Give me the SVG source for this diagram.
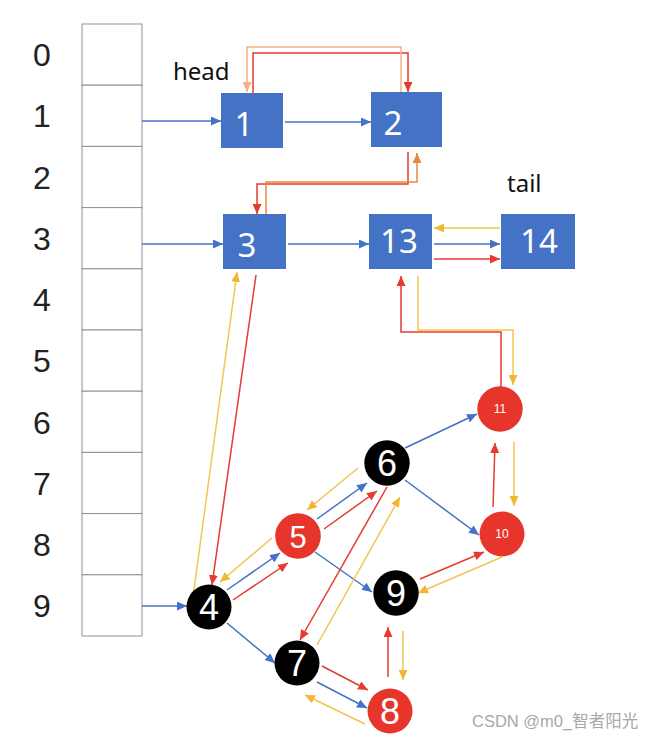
<svg xmlns="http://www.w3.org/2000/svg" width="650" height="740" viewBox="0 0 650 740">
<style>
.lbl{font-family:"Liberation Sans",Arial,sans-serif;font-size:32px;fill:#222;text-anchor:middle}
.cell{fill:#fff;stroke:#8a8f99;stroke-width:1}
.box{fill:#4472C4}
.bt{font-family:"Noto Sans","Liberation Sans",sans-serif;font-size:33px;fill:#fff;text-anchor:middle}
.ct{font-family:"Liberation Sans",Arial,sans-serif;font-size:36px;fill:#fff;text-anchor:middle}
.cs{font-family:"Liberation Sans",Arial,sans-serif;font-size:12px;fill:#fff;text-anchor:middle}
.blk{fill:#000}
.red{fill:#E8352B}
.word{font-family:"Noto Sans","Liberation Sans",sans-serif;font-size:24px;fill:#111}
.b{fill:none;stroke:#4472C4;stroke-width:1.5;marker-end:url(#mb)}
.r{fill:none;stroke:#E53A2E;stroke-width:1.5;marker-end:url(#mr)}
.y{fill:none;stroke:#F2C54E;stroke-width:1.5;marker-end:url(#my)}
.lo{fill:none;stroke:#F4B183;stroke-width:1.5;marker-end:url(#mlo)}
.o{fill:none;stroke:#E9883A;stroke-width:1.5;marker-end:url(#mo)}
</style>
<defs>
<marker id="mb" markerUnits="userSpaceOnUse" markerWidth="11" markerHeight="9" refX="10" refY="4.5" orient="auto"><path d="M0,0 L10,4.5 L0,9 z" fill="#4472C4"/></marker>
<marker id="mr" markerUnits="userSpaceOnUse" markerWidth="11" markerHeight="9" refX="10" refY="4.5" orient="auto"><path d="M0,0 L10,4.5 L0,9 z" fill="#E53A2E"/></marker>
<marker id="my" markerUnits="userSpaceOnUse" markerWidth="11" markerHeight="9" refX="10" refY="4.5" orient="auto"><path d="M0,0 L10,4.5 L0,9 z" fill="#F0B830"/></marker>
<marker id="mlo" markerUnits="userSpaceOnUse" markerWidth="11" markerHeight="9" refX="10" refY="4.5" orient="auto"><path d="M0,0 L10,4.5 L0,9 z" fill="#F4B183"/></marker>
<marker id="mo" markerUnits="userSpaceOnUse" markerWidth="11" markerHeight="9" refX="10" refY="4.5" orient="auto"><path d="M0,0 L10,4.5 L0,9 z" fill="#E9883A"/></marker>
</defs>
<rect width="650" height="740" fill="#fff"/>

<g id="array">
<rect class="cell" x="82" y="24" width="60" height="61.2"/>
<rect class="cell" x="82" y="85.2" width="60" height="61.2"/>
<rect class="cell" x="82" y="146.4" width="60" height="61.2"/>
<rect class="cell" x="82" y="207.6" width="60" height="61.2"/>
<rect class="cell" x="82" y="268.8" width="60" height="61.2"/>
<rect class="cell" x="82" y="330" width="60" height="61.2"/>
<rect class="cell" x="82" y="391.2" width="60" height="61.2"/>
<rect class="cell" x="82" y="452.4" width="60" height="61.2"/>
<rect class="cell" x="82" y="513.6" width="60" height="61.2"/>
<rect class="cell" x="82" y="574.8" width="60" height="61.2"/>
<text class="lbl" x="42" y="66">0</text>
<text class="lbl" x="42" y="127">1</text>
<text class="lbl" x="42" y="189">2</text>
<text class="lbl" x="42" y="250">3</text>
<text class="lbl" x="42" y="311">4</text>
<text class="lbl" x="42" y="372">5</text>
<text class="lbl" x="42" y="434">6</text>
<text class="lbl" x="42" y="495">7</text>
<text class="lbl" x="42" y="556">8</text>
<text class="lbl" x="42" y="617">9</text>
</g>

<text class="word" x="173" y="80">head</text>
<text class="word" x="507" y="192">tail</text>

<g id="connectors">
<path class="b" d="M142,121 H221"/>
<path class="b" d="M285,122 H371"/>
<path class="b" d="M142,244 H223"/>
<path class="b" d="M288,244 H369"/>
<path class="b" d="M434,244 H500"/>
<path class="b" d="M142,606 H187"/>
<path class="b" d="M227,590 L280,553"/>
<path class="b" d="M317,519 L367,483"/>
<path class="b" d="M315,552 L372,592"/>
<path class="b" d="M405,448 L477,414"/>
<path class="b" d="M405,480 L479,535"/>
<path class="b" d="M227,623 L275,663"/>
<path class="b" d="M317,682 L367,708"/>

<path class="r" d="M253,93 V53 H408 V92"/>
<path class="r" d="M408,152 V184 H257 V214"/>
<path class="r" d="M434,259 H500"/>
<path class="r" d="M501,387 V332 H401 V276"/>
<path class="r" d="M256,275 L212,585"/>
<path class="r" d="M233,600 L288,563"/>
<path class="r" d="M324,529 L377,491"/>
<path class="r" d="M387,487 L300,640"/>
<path class="r" d="M420,579 L484,552"/>
<path class="r" d="M493,507 L495,443"/>
<path class="r" d="M322,666 L368,690"/>
<path class="r" d="M388,677 V627"/>

<path class="y" d="M500,228 H434"/>
<path class="y" d="M418,276 V330 H513 V385"/>
<path class="y" d="M193,597 L237,272"/>
<path class="y" d="M272,538 L220,582"/>
<path class="y" d="M358,468 L307,510"/>
<path class="y" d="M317,645 L400,497"/>
<path class="y" d="M502,557 L418,593"/>
<path class="y" d="M514,442 V506"/>
<path class="y" d="M365,724 L305,695"/>
<path class="y" d="M403,631 V680"/>

<path class="lo" d="M401,92 V47 H247 V92"/>
<path class="o" d="M266,214 V182 H417 V153"/>
</g>

<g id="n1"><rect class="box" x="221" y="93" width="62" height="55"/><text class="bt" x="244" y="136">1</text></g>
<g id="n2"><rect class="box" x="371" y="92" width="71" height="55"/><text class="bt" x="393" y="135">2</text></g>
<g id="n3"><rect class="box" x="223" y="214" width="63" height="55"/><text class="bt" x="247" y="257">3</text></g>
<g id="n13"><rect class="box" x="369" y="214" width="63" height="55"/><text class="bt" x="399" y="253">13</text></g>
<g id="n14"><rect class="box" x="501" y="214" width="74" height="55"/><text class="bt" x="539" y="253">14</text></g>

<g id="c4"><circle class="blk" cx="209" cy="607" r="22.5"/><text class="ct" x="209" y="620">4</text></g>
<g id="c5"><circle class="red" cx="298" cy="536" r="22.8"/><text class="ct" x="298" y="548" style="font-size:31px">5</text></g>
<g id="c6"><circle class="blk" cx="387" cy="463" r="22.7"/><text class="ct" x="387" y="476">6</text></g>
<g id="c9"><circle class="blk" cx="396" cy="593" r="22.7"/><text class="ct" x="396" y="606">9</text></g>
<g id="c7"><circle class="blk" cx="297" cy="663" r="22.5"/><text class="ct" x="297" y="676">7</text></g>
<g id="c8"><circle class="red" cx="390" cy="711" r="22.5"/><text class="ct" x="390" y="724">8</text></g>
<g id="c10"><circle class="red" cx="502" cy="534" r="22.5"/><text class="cs" x="502" y="538">10</text></g>
<g id="c11"><circle class="red" cx="500" cy="409" r="22.7"/><text class="cs" x="500" y="413">11</text></g>

<text x="472" y="727" style="font-family:'Liberation Sans','Noto Sans CJK SC',sans-serif;font-size:16.5px;fill:#a8a8a8">CSDN @m0_智者阳光</text>
</svg>
